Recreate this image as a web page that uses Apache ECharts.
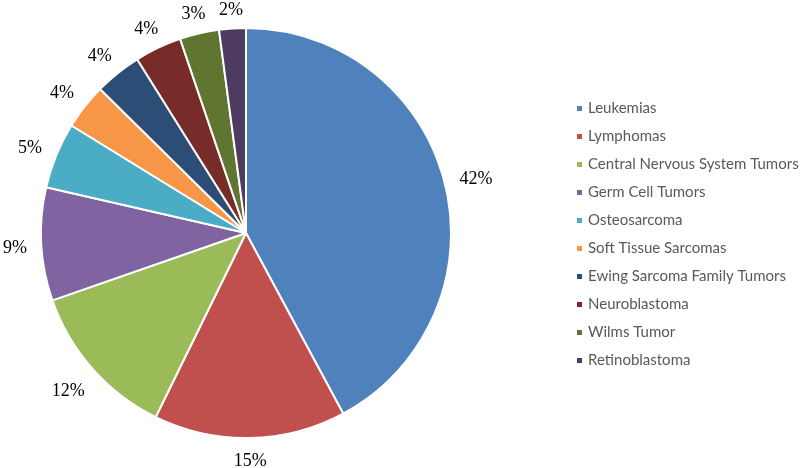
<!DOCTYPE html>
<html><head><meta charset="utf-8">
<script src="https://cdn.jsdelivr.net/npm/echarts@6/dist/echarts.min.js"></script>
<style>html,body{margin:0;padding:0;background:#fff}#c{width:800px;height:468px}</style>
</head><body><div id="c"></div>
<script>
const categories = ['Leukemias','Lymphomas','Central Nervous System Tumors','Germ Cell Tumors','Osteosarcoma','Soft Tissue Sarcomas','Ewing Sarcoma Family Tumors','Neuroblastoma','Wilms Tumor','Retinoblastoma'];
const values = [42.1, 15.1, 12.4, 8.9, 5.2, 3.6, 3.7, 3.7, 3.1, 2.1];
const colors = ['#4F81BD','#C0504D','#9BBB59','#8064A2','#4BACC6','#F79646','#2C4D75','#772C2A','#5F7530','#4D3B62'];

const chart = echarts.init(document.getElementById('c'));
const GAP = 14;
chart.setOption({
  animation:false,
  color: colors,
  legend:{
    orient:'vertical', left:570, top:96,
    icon:'rect', itemWidth:7, itemHeight:7, itemGap:13,
    textStyle:{fontFamily:'Lato, "Open Sans", sans-serif', fontSize:15, lineHeight:15, color:'#595959'},
    data: categories
  },
  series:[{
    type:'pie',
    center:[246,233], radius:[0,205],
    startAngle:90, clockwise:true,
    avoidLabelOverlap:false,
    itemStyle:{borderColor:'#fff', borderWidth:2},
    label:{show:true, position:'outside', formatter:p=>Math.round(p.value)+'%',
      fontFamily:'"Liberation Serif","Times New Roman",serif', fontSize:18, color:'#000'},
    labelLine:{show:false, length:6, length2:0},
    data: categories.map((n,i)=>({name:n, value:values[i]})),
    labelLayout: function(params){
      const data = chart.getModel().getSeriesByIndex(0).getData();
      const lay = data.getItemLayout(params.dataIndex);
      const mid = (lay.startAngle + lay.endAngle)/2;
      const ux = Math.cos(mid), uy = Math.sin(mid);
      const hw = params.labelRect.width/2, hh = params.labelRect.height/2;
      const d = lay.r + GAP + Math.abs(ux)*hw + Math.abs(uy)*hh;
      return {x: lay.cx + ux*d, y: lay.cy + uy*d + 3 - 3*uy, align:'center', verticalAlign:'middle'};
    }
  }]
});
</script></body></html>
